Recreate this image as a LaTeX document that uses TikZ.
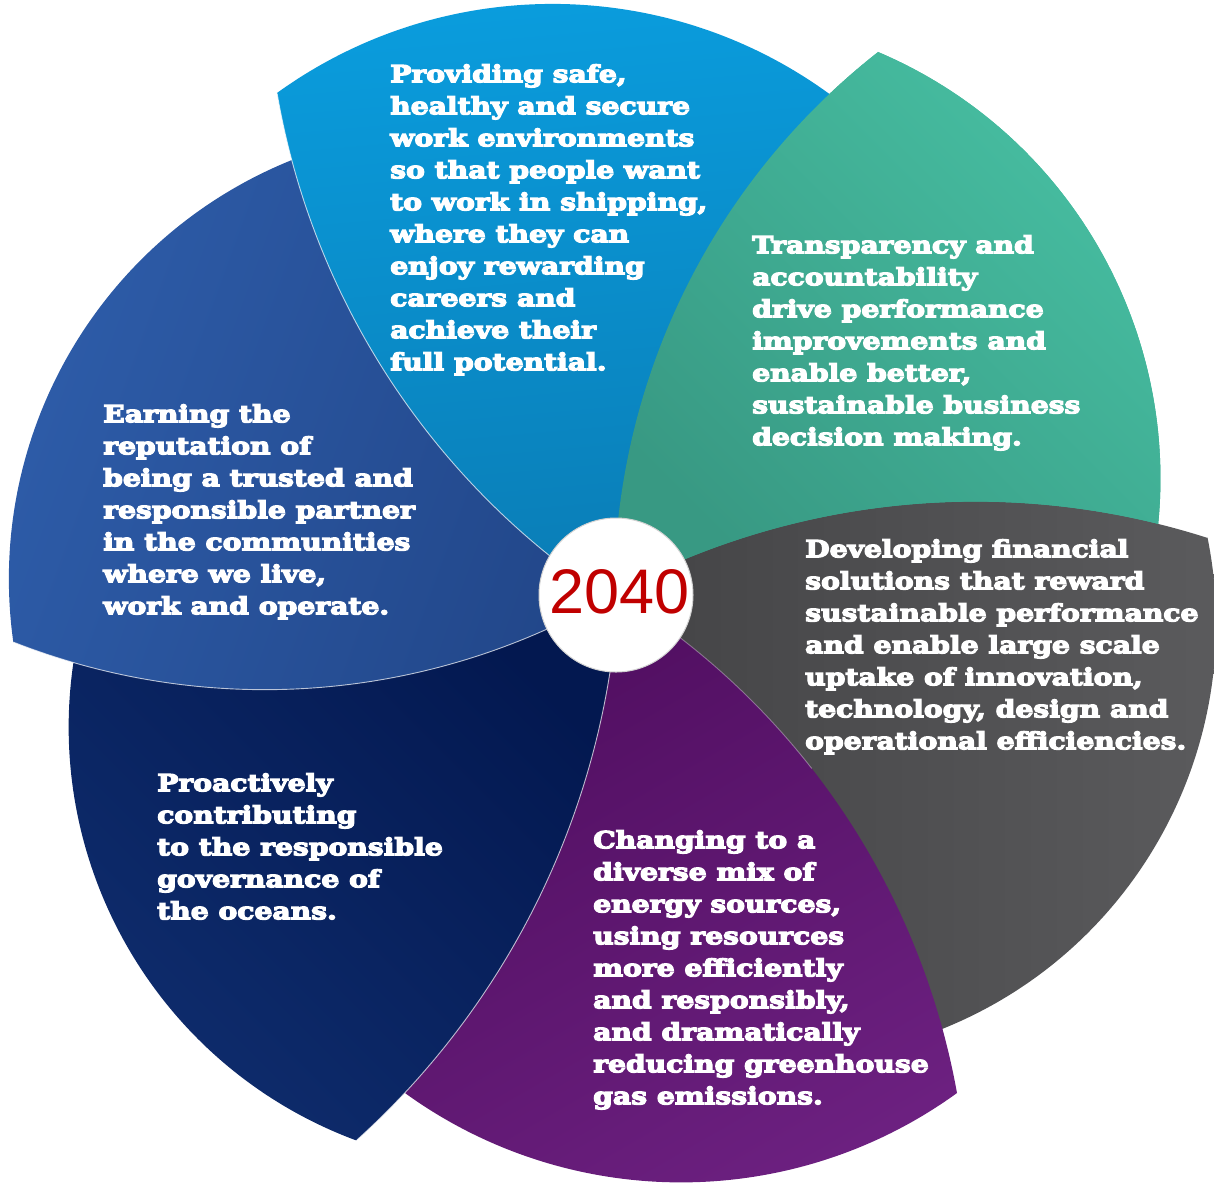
\documentclass[tikz,border=0pt]{standalone}
\usepackage{fontspec}
\newfontfamily\petalfont[FakeStretch=1.2, BoldFeatures={FakeBold=5.5}]{DejaVu Serif}
\newfontfamily\yearfont{Liberation Sans}
\definecolor{lbOut}{HTML}{0A9EDF}
\definecolor{lbIn}{HTML}{0A7DB6}
\definecolor{gOut}{HTML}{47BFA2}
\definecolor{gIn}{HTML}{389983}
\definecolor{gyOut}{HTML}{5C5C5E}
\definecolor{gyIn}{HTML}{444446}
\definecolor{pOut}{HTML}{6C2080}
\definecolor{pIn}{HTML}{500E60}
\definecolor{nOut}{HTML}{0F2D6E}
\definecolor{nIn}{HTML}{031850}
\definecolor{bOut}{HTML}{2E5DAA}
\definecolor{bIn}{HTML}{22478A}
\definecolor{yearRed}{HTML}{C00000}
\begin{document}
\begin{tikzpicture}[x=1pt,y=-1pt,
  petaltext/.style={text=white, font=\petalfont\bfseries\fontsize{23.5}{32}\selectfont,
                    align=left, inner sep=0pt, anchor=north west},
  seam/.style={draw=white, line width=0.9pt, opacity=0.7},
  gpetal/.style={top color=gOut, bottom color=gIn, shading angle=-45}]
\useasboundingbox (0,0) rectangle (1214,1184);
\coordinate (C) at (616,595);

% ---- green (drawn first, drawn again later above the light blue petal)
\shade[gpetal]
  ([shift={(1302.7,594.1)}]180:688.6) arc[start angle=180, end angle=231.93, radius=688.6]
  -- ([shift={(696.8,478.7)}]-67:463.6) arc[start angle=-67, end angle=10, radius=463.6]
  -- (1100,560) -- (980,553) -- (880,558) -- (800,570) -- (720,590) -- (630,600) -- cycle;

% ---- grey
\shade[top color=gyOut, bottom color=gyIn, shading angle=-90]
  ([shift={(975.4,1262.2)}]243:760.6) arc[start angle=243, end angle=287.73, radius=760.6]
  -- ([shift={(779.4,623.7)}]-11.37:436.7) arc[start angle=-11.37, end angle=70, radius=436.7]
  -- (900,960) -- (860,880) -- (800,800) -- (700,690) -- (630,610) -- cycle;

% ---- purple
\shade[top color=pOut, bottom color=pIn, shading angle=-150]
  ([shift={(227.9,1224.6)}]-57:740.9) arc[start angle=-57, end angle=-10.23, radius=740.9]
  -- ([shift={(681,711.6)}]54.1:470.8) arc[start angle=54.1, end angle=128, radius=470.8]
  -- (450,1000) -- (520,890) -- (570,790) -- (595,680) -- (610,610) -- cycle;

% ---- navy
\shade[top color=nOut, bottom color=nIn, shading angle=135]
  ([shift={(-177.5,548.6)}]3:797.1) arc[start angle=3, end angle=47.9, radius=797.1]
  -- ([shift={(509.7,727)}]110.5:441) arc[start angle=110.5, end angle=190, radius=441]
  -- (230,672) -- (400,657) -- (540,615) -- (600,600) -- cycle;

% ---- blue
\shade[top color=bOut, bottom color=bIn, shading angle=70]
  ([shift={(264.7,1.8)}]60:687.9) arc[start angle=60, end angle=111.46, radius=687.9]
  -- ([shift={(460.7,579.1)}]172:451.8) arc[start angle=172, end angle=250, radius=451.8]
  -- (330,230) -- (370,300) -- (405,370) -- (475,455) -- (545,530) -- (600,585) -- cycle;

% ---- light blue
\shade[top color=lbOut, bottom color=lbIn, shading angle=5]
  ([shift={(1024.7,-35.8)}]125:758.7) arc[start angle=125, end angle=170.2, radius=758.7]
  -- ([shift={(552.5,474.6)}]-125.83:470.7) arc[start angle=-125.83, end angle=-50, radius=470.7]
  -- (760,200) -- (710,300) -- (670,395) -- (650,472) -- (640,530) -- (625,590) -- cycle;

% ---- green again, clipped so that it stays under the grey petal
\begin{scope}
  \clip ([shift={(975.4,1262.2)}]243:760.6) arc[start angle=243, end angle=295, radius=760.6]
    -- (1300,-50) -- (560,-50) -- (560,584) -- cycle;
  \shade[gpetal]
    ([shift={(1302.7,594.1)}]180:688.6) arc[start angle=180, end angle=231.93, radius=688.6]
    -- ([shift={(696.8,478.7)}]-67:463.6) arc[start angle=-67, end angle=10, radius=463.6]
    -- (1100,560) -- (980,553) -- (880,558) -- (800,570) -- (720,590) -- (630,600) -- cycle;
\end{scope}

% ---- thin light seams along the leading edges
\draw[seam] ([shift={(1024.7,-35.8)}]125:758.7) arc[start angle=125, end angle=170.2, radius=758.7];
\draw[seam] ([shift={(264.7,1.8)}]60:687.9) arc[start angle=60, end angle=111.46, radius=687.9];
\draw[seam] ([shift={(-177.5,548.6)}]3:797.1) arc[start angle=3, end angle=47.9, radius=797.1];
\draw[seam, opacity=0.35] ([shift={(227.9,1224.6)}]-57:740.9) arc[start angle=-57, end angle=-38, radius=740.9];

% ---- hub
\node[circle, fill=white, draw=gray!35, line width=1pt, minimum size=154pt, inner sep=0pt] (hub) at (C) {};
\node[font=\yearfont\fontsize{63}{63}\selectfont, text=yearRed, anchor=base, inner sep=0pt] (year) at (619.5,613) {2040};

% ---- texts
\node[petaltext] (tLB) at (390,62) {\rule{0pt}{20pt}Providing safe,\\ healthy and secure\\ work environments\\ so that people want\\ to work in shipping,\\ where they can\\ enjoy rewarding\\ careers and\\ achieve their\\ full potential.};
\node[petaltext] (tG) at (752,233) {\rule{0pt}{20pt}Transparency and\\ accountability\\ drive performance\\ improvements and\\ enable better,\\ sustainable business\\ decision making.};
\node[petaltext] (tGy) at (805,537) {\rule{0pt}{20pt}Developing financial\\ solutions that reward\\ sustainable performance\\ and enable large scale\\ uptake of innovation,\\ technology, design and\\ operational efficiencies.};
\node[petaltext] (tP) at (593,828) {\rule{0pt}{20pt}Changing to a\\ diverse mix of\\ energy sources,\\ using resources\\ more efficiently\\ and responsibly,\\ and dramatically\\ reducing greenhouse\\ gas emissions.};
\node[petaltext] (tN) at (157,771) {\rule{0pt}{20pt}Proactively\\ contributing\\ to the responsible\\ governance of\\ the oceans.};
\node[petaltext] (tB) at (103,402) {\rule{0pt}{20pt}Earning the\\ reputation of\\ being a trusted and\\ responsible partner\\ in the communities\\ where we live,\\ work and operate.};
\end{tikzpicture}
\end{document}
